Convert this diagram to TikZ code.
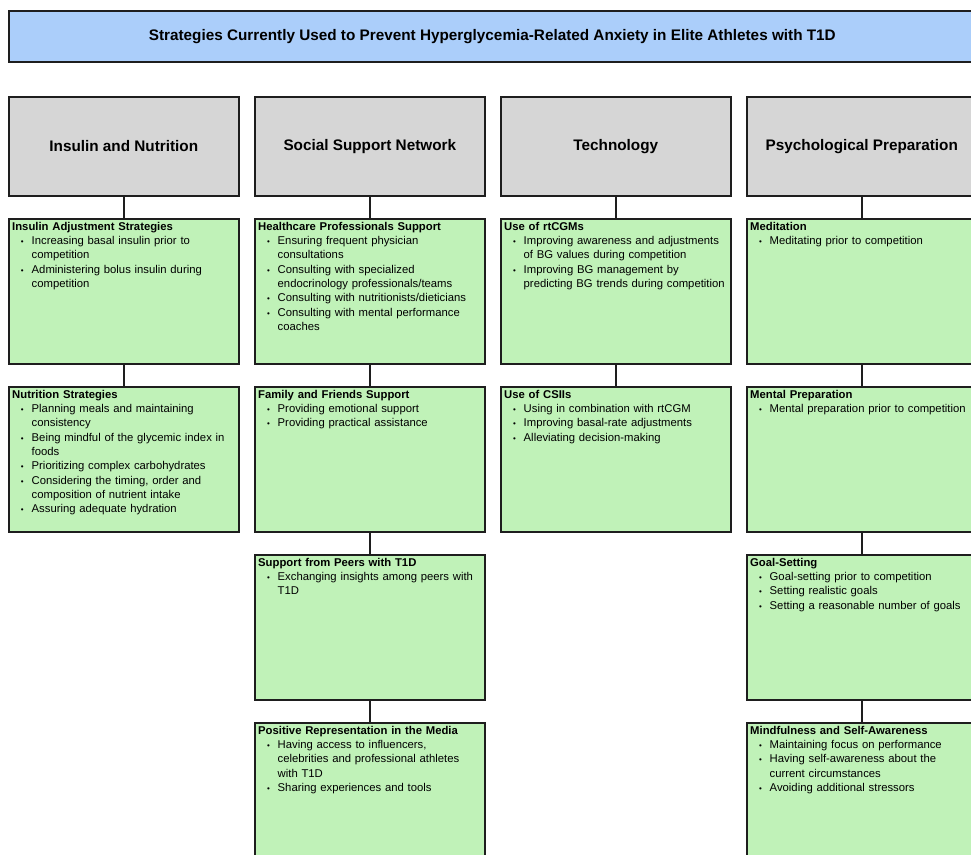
\documentclass[tikz,border=0pt]{standalone}
\usepackage{fontspec}
\setmainfont{Liberation Sans}
\definecolor{titleblue}{HTML}{ABCEFA}
\definecolor{headgray}{HTML}{D6D6D6}
\definecolor{boxgreen}{HTML}{C0F2B8}
\definecolor{linedark}{HTML}{1E1E1E}
\newcommand{\bitem}[1]{{\leftskip=19.5bp\noindent\llap{\makebox[19.5bp][l]{\hspace{8.8bp}\fontsize{8bp}{8bp}\selectfont\textbullet}}#1\par}}
\newcommand{\btitle}[1]{{\noindent\textbf{#1}\par}}
\newcommand{\greenbox}[4]{%
  \node[gbox] (#1) at (#2,#3) {};
  \node[gtext] (#1t) at ([shift={(4,4)}]#1.north west) {#4};}
\tikzset{
  gbox/.style={draw=linedark, line width=1.6bp, fill=boxgreen, minimum width=230bp,
    minimum height=145bp, inner sep=0pt, anchor=north west},
  headbox/.style={draw=linedark, line width=1.6bp, fill=headgray, minimum width=230bp,
    minimum height=99bp, inner sep=0pt, anchor=north west,
    font=\fontsize{15.3bp}{18bp}\selectfont\bfseries},
  titlebox/.style={draw=linedark, line width=1.6bp, fill=titleblue, minimum width=967bp,
    minimum height=51bp, inner sep=0pt, anchor=north west,
    font=\fontsize{15.3bp}{18bp}\selectfont\bfseries},
  gtext/.style={anchor=north west, inner sep=0pt, text width=240bp, align=left,
    font=\fontsize{11.3bp}{14.3bp}\selectfont},
  conn/.style={draw=linedark, line width=1.6bp},
}
\begin{document}
\begin{tikzpicture}[x=1bp,y=-1bp]
\useasboundingbox (0,0) rectangle (971,855);
\clip (0,0) rectangle (971,855);
\fill[white] (0,0) rectangle (971,855);

\node[titlebox] (title) at (8,10) {Strategies Currently Used to Prevent Hyperglycemia-Related Anxiety in Elite Athletes with T1D};

\node[headbox] (h1) at (8,96) {Insulin and Nutrition};
\node[headbox] (h2) at (254,96) {Social Support Network};
\node[headbox] (h3) at (500,96) {Technology};
\node[headbox] (h4) at (746,96) {Psychological Preparation};

% column 1
\greenbox{b11}{8}{218}{\btitle{Insulin Adjustment Strategies}
  \bitem{Increasing basal insulin prior to\newline competition}
  \bitem{Administering bolus insulin during\newline competition}}
\greenbox{b12}{8}{386}{\btitle{Nutrition Strategies}
  \bitem{Planning meals and maintaining\newline consistency}
  \bitem{Being mindful of the glycemic index in\newline foods}
  \bitem{Prioritizing complex carbohydrates}
  \bitem{Considering the timing, order and\newline composition of nutrient intake}
  \bitem{Assuring adequate hydration}}

% column 2
\greenbox{b21}{254}{218}{\btitle{Healthcare Professionals Support}
  \bitem{Ensuring frequent physician\newline consultations}
  \bitem{Consulting with specialized\newline endocrinology professionals/teams}
  \bitem{Consulting with nutritionists/dieticians}
  \bitem{Consulting with mental performance\newline coaches}}
\greenbox{b22}{254}{386}{\btitle{Family and Friends Support}
  \bitem{Providing emotional support}
  \bitem{Providing practical assistance}}
\greenbox{b23}{254}{554}{\btitle{Support from Peers with T1D}
  \bitem{Exchanging insights among peers with\newline T1D}}
\greenbox{b24}{254}{722}{\btitle{Positive Representation in the Media}
  \bitem{Having access to influencers,\newline celebrities and professional athletes\newline with T1D}
  \bitem{Sharing experiences and tools}}

% column 3
\greenbox{b31}{500}{218}{\btitle{Use of rtCGMs}
  \bitem{Improving awareness and adjustments\newline of BG values during competition}
  \bitem{Improving BG management by\newline predicting BG trends during competition}}
\greenbox{b32}{500}{386}{\btitle{Use of CSIIs}
  \bitem{Using in combination with rtCGM}
  \bitem{Improving basal-rate adjustments}
  \bitem{Alleviating decision-making}}

% column 4
\greenbox{b41}{746}{218}{\btitle{Meditation}
  \bitem{Meditating prior to competition}}
\greenbox{b42}{746}{386}{\btitle{Mental Preparation}
  \bitem{Mental preparation prior to competition}}
\greenbox{b43}{746}{554}{\btitle{Goal-Setting}
  \bitem{Goal-setting prior to competition}
  \bitem{Setting realistic goals}
  \bitem{Setting a reasonable number of goals}}
\greenbox{b44}{746}{722}{\btitle{Mindfulness and Self-Awareness}
  \bitem{Maintaining focus on performance}
  \bitem{Having self-awareness about the\newline current circumstances}
  \bitem{Avoiding additional stressors}}

% connectors
\draw[conn] (h1.south) -- (b11.north);
\draw[conn] (b11.south) -- (b12.north);
\draw[conn] (h2.south) -- (b21.north);
\draw[conn] (b21.south) -- (b22.north);
\draw[conn] (b22.south) -- (b23.north);
\draw[conn] (b23.south) -- (b24.north);
\draw[conn] (h3.south) -- (b31.north);
\draw[conn] (b31.south) -- (b32.north);
\draw[conn] (h4.south) -- (b41.north);
\draw[conn] (b41.south) -- (b42.north);
\draw[conn] (b42.south) -- (b43.north);
\draw[conn] (b43.south) -- (b44.north);
\end{tikzpicture}
\end{document}
